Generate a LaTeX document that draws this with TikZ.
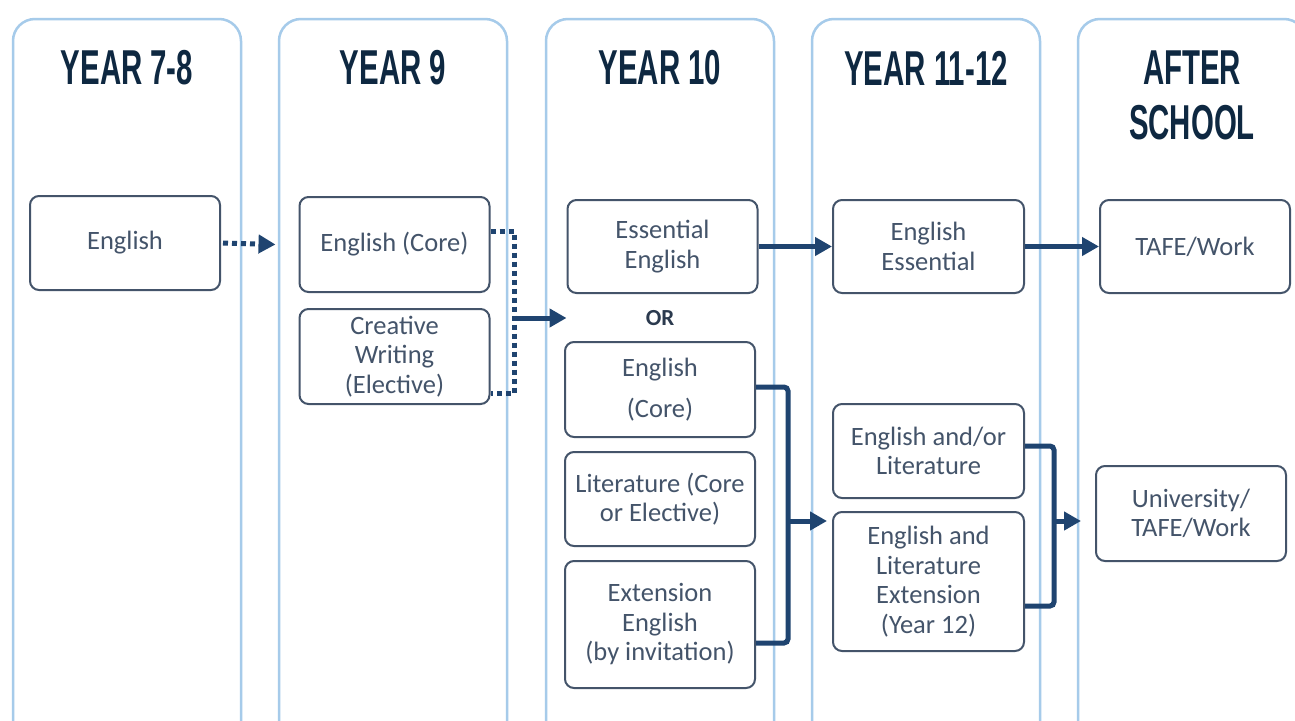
\documentclass[tikz,border=0pt]{standalone}
\usepackage{fontspec}
\setmainfont{Carlito}
\newfontfamily\headfont{Liberation Sans}
\usetikzlibrary{arrows.meta,calc}
\definecolor{colc}{HTML}{A6CBEA}
\definecolor{boxc}{HTML}{44546A}
\definecolor{txtc}{HTML}{44546A}
\definecolor{arrc}{HTML}{1F4470}
\definecolor{headc}{HTML}{0E2841}
\definecolor{orc}{HTML}{2B3A4E}
\tikzset{
  column/.style={draw=colc, line width=2.5pt, rounded corners=22pt},
  box/.style={draw=boxc, line width=2pt, rounded corners=9pt, align=center, text=txtc,
    font=\fontsize{26.5}{29.5}\selectfont, inner sep=0pt, minimum width=190pt},
  head/.style={text=headc, align=center, inner sep=0pt},
  link/.style={draw=arrc, line width=5pt},
  dotlink/.style={draw=arrc, line width=5pt, dash pattern=on 5pt off 4pt},
  tip/.style={-{Triangle[length=17pt,width=18pt]}},
}
\newcommand{\hd}[1]{\scalebox{0.6}[1]{\headfont\bfseries\fontsize{49}{55}\selectfont #1}}
\begin{document}
\begin{tikzpicture}[x=1pt,y=-1pt]
\useasboundingbox (0,0) rectangle (1295,720);
\clip (0,0) rectangle (1295,720);
\fill[white] (0,0) rectangle (1295,720);
% columns
\foreach \xa/\xb in {13/241,279/507,546/774,812/1040,1078/1306}{
  \draw[column] (\xa,760) rectangle (\xb,19);
}
% headings
\node[head] (h1) at (127,68) {\hd{YEAR 7-8}};
\node[head] (h2) at (393,68) {\hd{YEAR 9}};
\node[head] (h3) at (660,68) {\hd{YEAR 10}};
\node[head] (h4) at (926,68) {\hd{YEAR 11-12}};
\node[head] (h5a) at (1192,68) {\hd{AFTER}};
\node[head] (h5b) at (1192,123) {\hd{SCHOOL}};
% boxes
\node[box, minimum height=94pt] (e78) at (125,243) {English};
\node[box, minimum height=95pt] (y9core) at (394.5,244.5) {English (Core)};
\node[box, minimum height=95pt] (y9cw) at (394.5,356.5) {Creative\\Writing\\(Elective)};
\node[box, minimum height=93pt] (ess) at (662.5,246.5) {Essential\\English};
\node[text=orc, font=\fontsize{23}{26}\selectfont\bfseries, inner sep=0pt] (or) at (660,318) {OR};
\node[box, minimum height=95pt] (y10core) at (660,389.5) {English\\[11pt](Core)};
\node[box, minimum height=94pt] (lit) at (660,499) {Literature (Core\\or Elective)};
\node[box, minimum height=127pt] (ext) at (660,624.5) {Extension\\English\\(by invitation)};
\node[box, minimum height=93pt, minimum width=191pt] (engess) at (928.5,246.5) {English\\Essential};
\node[box, minimum height=94pt, minimum width=191pt] (englit) at (928.5,451) {English and/or\\Literature};
\node[box, minimum height=139pt, minimum width=191pt] (englitext) at (928.5,581.5) {English and\\Literature\\Extension\\(Year 12)};
\node[box, minimum height=93pt] (tafe) at (1195,246.5) {TAFE/Work};
\node[box, minimum height=95pt] (uni) at (1191,513.5) {University/\\TAFE/Work};
% coordinates
\coordinate (b9) at (514,318);
\coordinate (b10) at (788,521);
\coordinate (b11) at (1054,521);
% connectors
\draw[dotlink, tip] ([xshift=2pt]e78.east) -- ([xshift=-23pt]y9core.west);
\draw[dotlink] (y9core.east |- 0,231) -- (b9 |- 0,231) -- (b9 |- 0,393) -- (y9cw.east |- 0,393);
\draw[link, tip] (b9) -- (ess.west |- b9);
\draw[link, tip] (ess.east) -- (engess.west);
\draw[link, tip] (engess.east) -- (tafe.west);
\draw[link, rounded corners=4pt] (y10core.east |- 0,387) -- (b10 |- 0,387) -- (b10 |- 0,643) -- (ext.east |- 0,643);
\draw[link, tip] (b10) -- ([xshift=-5pt]englitext.west |- b10);
\draw[link, rounded corners=4pt] (englit.east |- 0,446) -- (b11 |- 0,446) -- (b11 |- 0,606) -- (englitext.east |- 0,606);
\draw[link, tip] (b11) -- ([xshift=-14pt]uni.west |- b11);
\end{tikzpicture}
\end{document}
